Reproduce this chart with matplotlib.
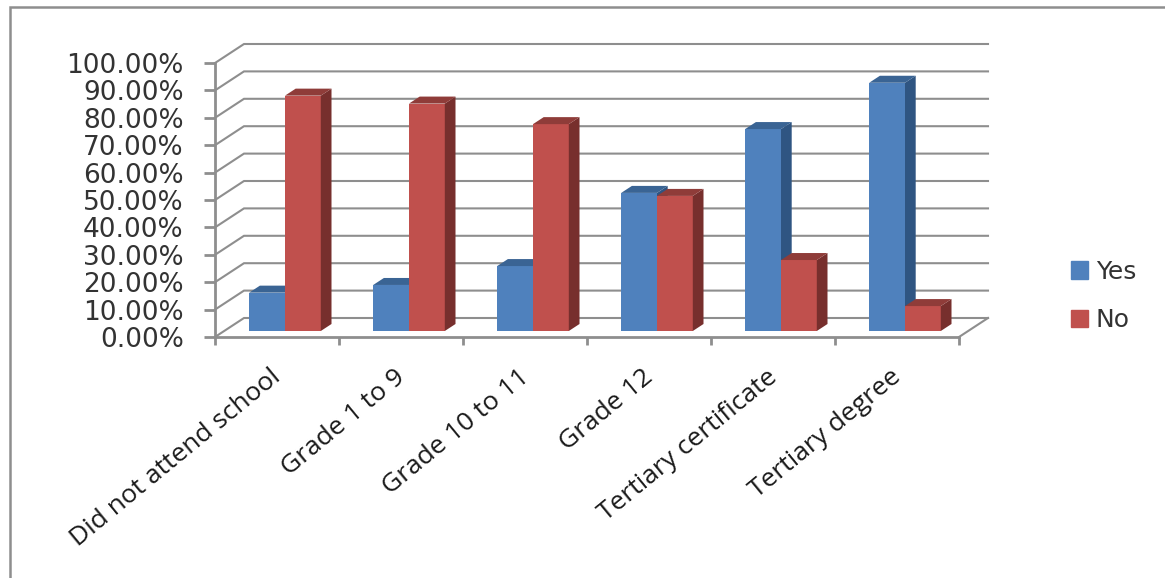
import matplotlib
matplotlib.use("Agg")
import matplotlib.pyplot as plt
import numpy as np
from matplotlib.patches import Patch, Rectangle

categories = ["Did not attend school", "Grade 1 to 9", "Grade 10 to 11",
              "Grade 12", "Tertiary certificate", "Tertiary degree"]
yes_values = [14.0, 16.8, 23.7, 50.4, 73.7, 90.6]
no_values = [85.9, 83.0, 75.5, 49.3, 25.9, 9.1]
y_ticks = [0, 10, 20, 30, 40, 50, 60, 70, 80, 90, 100]

W, H = 1165, 578
GRAY = "#8e8e8e"

# pseudo 3d offsets, in data units (1 category = 124px, 1% = 2.74px)
wall_dx, wall_dy = 29 / 124, 19 / 2.74
bar_dx, bar_dy = 10.7 / 124, 7 / 2.74
bar_base = 6 / 2.74
bar_w = 35.8 / 124
group_shift = 8 / 124

fig = plt.figure(figsize=(W / 100, H / 100), dpi=100)
ax = fig.add_axes([215 / W, (H - 337) / H, 744 / W, 274 / H])
ax.set_xlim(-0.5, 5.5)
ax.set_ylim(0, 100)

# chart border, runs off the right and bottom of the picture
fig.add_artist(Rectangle((10 / W, -0.05), 1.2, (H - 7) / H + 0.05, transform=fig.transFigure,
                         fc="none", ec=GRAY, lw=1.8))

# gridlines on the back wall plus the slanted bits on the side wall
x0, x1 = ax.get_xlim()
for v in y_ticks:
    ax.plot([x0, x0 + wall_dx, x1 + wall_dx], [v, v + wall_dy, v + wall_dy],
            color=GRAY, lw=1.5, zorder=1, clip_on=False, solid_joinstyle="miter")
ax.plot([x1, x1 + wall_dx], [0, wall_dy], color=GRAY, lw=1.5, zorder=1, clip_on=False)


def draw_bars(x_left, values, front, side, top, z):
    ax.bar(x_left, values, width=bar_w, bottom=bar_base, align="edge",
           color=front, zorder=z, clip_on=False)
    for xl, v in zip(x_left, values):
        xr = xl + bar_w
        y_top = bar_base + v
        ax.fill([xr, xr + bar_dx, xr + bar_dx, xr],
                [bar_base, bar_base + bar_dy, y_top + bar_dy, y_top],
                color=side, lw=0, zorder=z, clip_on=False)
        ax.fill([xl, xl + bar_dx, xr + bar_dx, xr],
                [y_top, y_top + bar_dy, y_top + bar_dy, y_top],
                color=top, lw=0, zorder=z, clip_on=False)


x = np.arange(len(categories))
draw_bars(x + group_shift - bar_w, yes_values, "#4f81bd", "#2f5582", "#3a6494", 3)
draw_bars(x + group_shift, no_values, "#c0504d", "#772f2d", "#8f3c39", 4)

for s in ["top", "right"]:
    ax.spines[s].set_visible(False)
for s in ["left", "bottom"]:
    ax.spines[s].set_color(GRAY)
    ax.spines[s].set_linewidth(2)
    ax.spines[s].set_zorder(2)

ax.set_yticks(y_ticks)
ax.set_yticklabels([f"{v:.2f}%" for v in y_ticks], fontsize=19, color="#333333",
                   family="DejaVu Sans")
ax.tick_params(axis="y", length=8, width=2, color=GRAY, pad=14.5)

ax.set_xticks(np.arange(len(categories) + 1) - 0.5)
ax.set_xticklabels([])
ax.tick_params(axis="x", which="major", length=6, width=2, color=GRAY)
# labels sit a little left of the category centre
ax.set_xticks(x - 0.055, categories, minor=True)
ax.tick_params(axis="x", which="minor", length=0, pad=20)
for lab in ax.get_xticklabels(minor=True):
    lab.set(rotation=39.5, ha="right", va="top", rotation_mode="anchor",
            fontsize=19, color="#1a1a1a", family="Open Sans")

handles = [Patch(color="#4f81bd", label="Yes"), Patch(color="#c0504d", label="No")]
ax.legend(handles=handles, loc="center left", bbox_to_anchor=(1071 / W, (H - 296) / H),
          bbox_transform=fig.transFigure, frameon=False, prop={"family": "DejaVu Sans", "size": 18},
          handlelength=0.68, handleheight=0.68, handletextpad=0.32, labelspacing=0.98,
          labelcolor="#333333", borderpad=0, borderaxespad=0)

fig.savefig("out.png", dpi=100)
